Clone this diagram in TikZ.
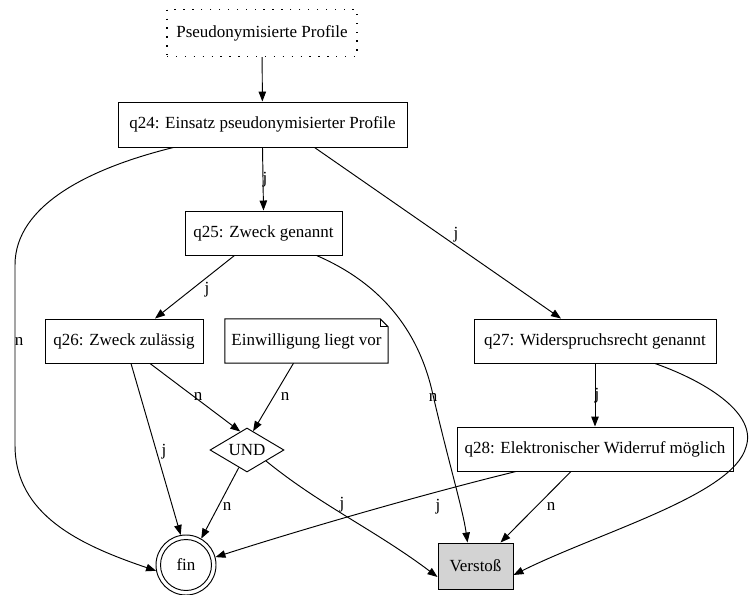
\documentclass[tikz,border=0pt]{standalone}
\usepackage{fontspec}
\setmainfont{Liberation Serif}
\usetikzlibrary{arrows.meta,shapes.geometric}
\begin{document}
\begin{tikzpicture}[x=1pt,y=-1pt,
  every node/.style={font=\fontsize{17}{20}\selectfont},
  box/.style={draw, line width=0.95pt, rectangle, minimum height=44pt, inner sep=0pt},
  lbl/.style={inner sep=0pt},
  edge/.style={line width=0.95pt, -{Triangle[length=10pt,width=7.5pt]}}
]
\useasboundingbox (0,0) rectangle (749,594);

% nodes
\node[draw, line width=1.1pt, dash pattern=on 1.3pt off 7.6pt, minimum width=190pt, minimum height=47pt, inner sep=0pt] (p) at (262,33) {Pseudonymisierte Profile};
\node[box, minimum width=289pt, minimum height=45pt] (q24) at (262.5,124.5) {q24: Einsatz pseudonymisierter Profile};
\node[box, minimum width=157pt] (q25) at (263.5,233) {q25: Zweck genannt};
\node[box, minimum width=158pt] (q26) at (124,341) {q26: Zweck zulässig};
\node[minimum width=163pt, minimum height=44pt, inner sep=0pt] (einw) at (306.5,341) {Einwilligung liegt vor};
\draw[line width=0.95pt] (einw.north west) -- ([xshift=-8pt]einw.north east) -- ([yshift=-8pt]einw.north east) -- (einw.south east) -- (einw.south west) -- cycle;
\draw[line width=0.8pt] ([xshift=-8pt]einw.north east) |- ([yshift=-8pt]einw.north east);
\node[box, minimum width=242pt] (q27) at (595,341) {q27: Widerspruchsrecht genannt};
\node[box, minimum width=276pt] (q28) at (595,449) {q28: Elektronischer Widerruf möglich};
\node[draw, line width=0.95pt, diamond, aspect=1.68, minimum width=74pt, minimum height=44pt, inner sep=0pt] (und) at (247,450) {UND};
\node[draw, line width=0.95pt, circle, minimum size=60pt, inner sep=0pt] (fin) at (186,565) {};
\draw[line width=0.95pt] (fin.center) circle[radius=25.5pt];
\node at (fin.center) {fin};
\node[box, fill={rgb,255:red,211;green,211;blue,211}, minimum width=75pt, minimum height=46pt] (v) at (475.5,566) {Verstoß};

% connectors
\draw[edge] (p) -- (q24);
\draw[edge] (q24.south) -- (q25.north);
\node[lbl] (l1) at (265,180) {j};
\draw[edge] ([xshift=52pt]q24.south) -- ([xshift=-34pt]q27.north);
\node[lbl] (l2) at (456,235) {j};
\draw[edge] ([xshift=-89pt]q24.south) .. controls (90,168) and (15,205) .. (15,265)
  -- (15,445) .. controls (15,515) and (80,545) .. (fin.191);
\node[lbl] (l3) at (19,341) {n};
\draw[edge] ([xshift=-29pt]q25.south) -- ([xshift=31pt]q26.north);
\node[lbl] (l4) at (207,290) {j};
\draw[edge] ([xshift=53pt]q25.south) .. controls (385,285) and (420,335) .. (433,395)
  .. controls (448,460) and (463,510) .. ([xshift=-8pt]v.north);
\node[lbl] (l5) at (433,397) {n};
\draw[edge] ([xshift=7pt]q26.south) -- (fin.100);
\node[lbl] (l6) at (164,452) {j};
\draw[edge] ([xshift=26pt]q26.south) -- (und.110);
\node[lbl] (l7) at (198,396) {n};
\draw[edge] ([xshift=-13pt]einw.south) -- (und.72);
\node[lbl] (l8) at (285,396) {n};
\draw[edge] (und.245) -- (fin.60);
\node[lbl] (l9) at (227,506) {n};
\draw[edge] (und.-30) .. controls (320,505) and (375,530) .. ([yshift=-11pt]v.west);
\node[lbl] (l10) at (342,505) {j};
\draw[edge] (q27.south) -- (q28.north);
\node[lbl] (l11) at (597,396) {j};
\draw[edge] ([xshift=60pt]q27.south) .. controls (710,383) and (757,415) .. (746,447)
  .. controls (733,495) and (600,532) .. ([yshift=-9pt]v.east);
\draw[edge] ([xshift=-79pt]q28.south) .. controls (420,495) and (300,530) .. (fin.15);
\node[lbl] (l12) at (438,507) {j};
\draw[edge] ([xshift=-24pt]q28.south) -- ([xshift=25pt]v.north);
\node[lbl] (l13) at (551,506) {n};
\end{tikzpicture}
\end{document}
